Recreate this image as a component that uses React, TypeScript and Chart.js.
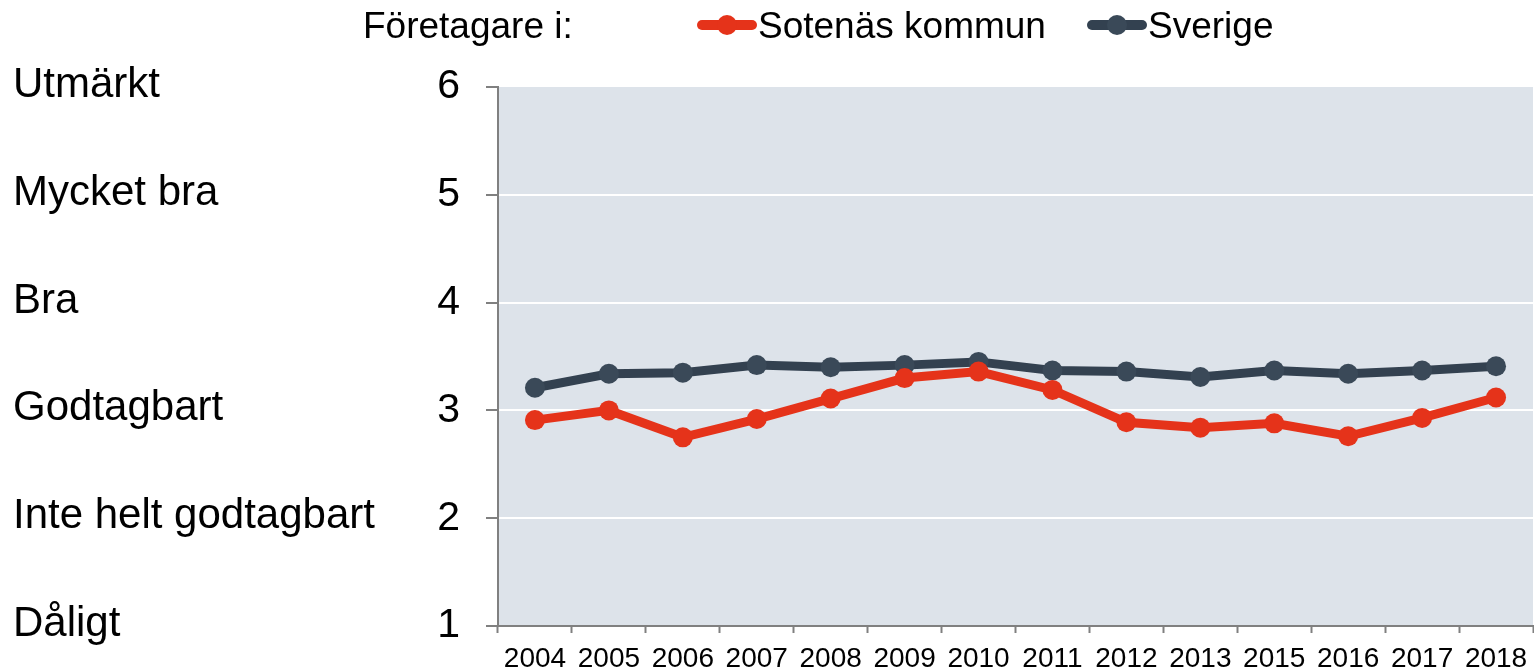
import React, { useEffect, useRef } from "react";
import { Chart, registerables } from "chart.js";

Chart.register(...registerables);

const years = ["2004", "2005", "2006", "2007", "2008", "2009", "2010", "2011", "2012", "2013", "2015", "2016", "2017", "2018"];
const sotenas = [2.91, 3.0, 2.75, 2.92, 3.11, 3.3, 3.36, 3.19, 2.89, 2.84, 2.88, 2.76, 2.93, 3.12];
const sverige = [3.21, 3.34, 3.35, 3.42, 3.4, 3.42, 3.45, 3.37, 3.36, 3.31, 3.37, 3.34, 3.37, 3.41];
const ratingValues = [1, 2, 3, 4, 5, 6];
const ratingLabels = ["Dåligt", "Inte helt godtagbart", "Godtagbart", "Bra", "Mycket bra", "Utmärkt"];
const legendTitle = "Företagare i:";
const seriesNames = ["Sotenäs kommun", "Sverige"];
const seriesColors = ["#E5331A", "#334150"];
const pointColors = ["#E5331A", "#3A4958"];

const FONT = "'Liberation Sans', Arial, sans-serif";

const decorPlugin = {
  id: "decor",
  beforeDraw(chart: any) {
    const { ctx, chartArea } = chart;
    ctx.save();
    ctx.fillStyle = "#DDE3EA";
    ctx.fillRect(chartArea.left, chartArea.top, chartArea.right - chartArea.left, chartArea.bottom - chartArea.top);
    ctx.restore();
  },
  afterDraw(chart: any) {
    const { ctx } = chart;
    const y = chart.scales.y;
    ctx.save();
    ctx.fillStyle = "#000";
    ctx.textAlign = "left";
    ctx.textBaseline = "alphabetic";
    ctx.font = `42px ${FONT}`;
    ratingValues.forEach((v, i) => {
      const py = y.getPixelForValue(v);
      ctx.fillText(ratingLabels[i], 13, py + 10);
    });
    // legend
    ctx.font = `37px ${FONT}`;
    ctx.fillText(legendTitle, 363, 38);
    const items = [
      { x: 697, textX: 758 },
      { x: 1087, textX: 1148 },
    ];
    items.forEach((it, i) => {
      ctx.strokeStyle = seriesColors[i];
      ctx.lineWidth = 10;
      ctx.lineCap = "round";
      ctx.beginPath();
      ctx.moveTo(it.x + 5, 25);
      ctx.lineTo(it.x + 55, 25);
      ctx.stroke();
      ctx.fillStyle = pointColors[i];
      ctx.beginPath();
      ctx.arc(it.x + 30, 25, 10, 0, Math.PI * 2);
      ctx.fill();
      ctx.fillStyle = "#000";
      ctx.font = `37px ${FONT}`;
      ctx.fillText(seriesNames[i], it.textX, 38);
    });
    ctx.restore();
  },
};

export default function App() {
  const ref = useRef<HTMLCanvasElement>(null);
  useEffect(() => {
    document.body.style.margin = "0";
    const canvas = ref.current!;
    const chart = new Chart(canvas, {
      type: "line",
      data: {
        labels: years,
        datasets: [
          {
            label: seriesNames[0],
            data: sotenas,
            borderColor: seriesColors[0],
            backgroundColor: pointColors[0],
            pointBackgroundColor: pointColors[0],
            pointBorderWidth: 0,
            borderWidth: 9,
            pointRadius: 10,
            tension: 0,
          },
          {
            label: seriesNames[1],
            data: sverige,
            borderColor: seriesColors[1],
            backgroundColor: pointColors[1],
            pointBackgroundColor: pointColors[1],
            pointBorderWidth: 0,
            borderWidth: 9,
            pointRadius: 10,
            tension: 0,
          },
        ],
      },
      options: {
        responsive: false,
        animation: false,
        layout: { autoPadding: false, padding: { top: 87, right: 1, left: 0, bottom: 0 } },
        plugins: { legend: { display: false }, tooltip: { enabled: false } },
        scales: {
          x: {
            offset: true,
            afterFit: (s: any) => {
              s.height = 45;
              s.paddingLeft = 0;
              s.paddingRight = 0;
            },
            grid: {
              offset: true,
              drawOnChartArea: false,
              drawTicks: true,
              tickLength: 7,
              tickColor: "#808080",
              tickWidth: 2,
            },
            border: { color: "#808080", width: 2 },
            ticks: {
              color: "#000",
              font: { family: FONT, size: 28 },
              padding: 9,
              maxRotation: 0,
              autoSkip: false,
            },
          },
          y: {
            min: 1,
            max: 6,
            afterFit: (s: any) => {
              s.width = 498;
              s.paddingTop = 0;
              s.paddingBottom = 0;
            },
            grid: {
              color: (c: any) => (c.tick && c.tick.value > 1 && c.tick.value < 6 ? "#FFFFFF" : "rgba(0,0,0,0)"),
              lineWidth: 2,
              tickLength: 12,
              tickColor: "#808080",
              tickWidth: 2,
            },
            border: { color: "#808080", width: 2 },
            ticks: {
              stepSize: 1,
              color: "#000",
              font: { family: FONT, size: 41 },
              padding: 26,
            },
          },
        },
      },
      plugins: [decorPlugin],
    });
    return () => chart.destroy();
  }, []);
  return (
    <div style={{ position: "absolute", left: 0, top: 0, width: 1534, height: 671, background: "#fff" }}>
      <canvas ref={ref} width={1534} height={671} style={{ display: "block" }} />
    </div>
  );
}
